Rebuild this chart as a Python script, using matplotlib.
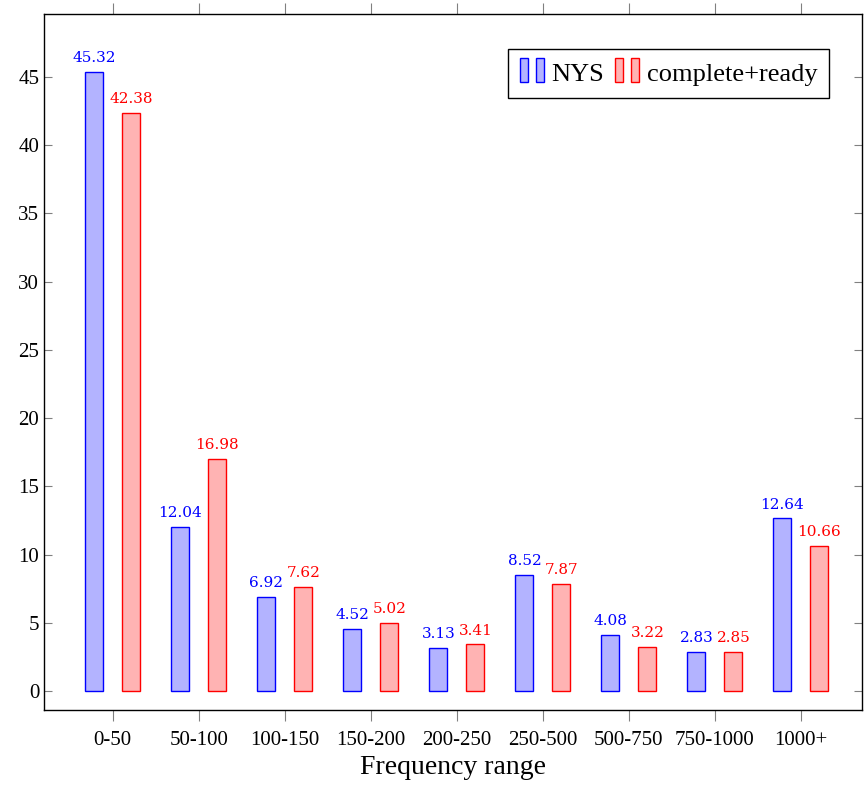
import numpy as np
import matplotlib.pyplot as plt
from matplotlib.patches import Rectangle

plt.rcParams['font.family'] = ['Liberation Serif', 'DejaVu Serif']

categories = ["0-50", "50-100", "100-150", "150-200", "200-250", "250-500", "500-750", "750-1000", "1000+"]
nys = [45.32, 12.04, 6.92, 4.52, 3.13, 8.52, 4.08, 2.83, 12.64]
complete_ready = [42.38, 16.98, 7.62, 5.02, 3.41, 7.87, 3.22, 2.85, 10.66]

blue_face = (0.7, 0.7, 1.0)
red_face = (1.0, 0.7, 0.7)


class TwoBars:
    # pgfplots-style ybar legend image: two thin bars
    def legend_artist(self, legend, orig_handle, fontsize, handlebox):
        x0, y0 = handlebox.xdescent, handlebox.ydescent
        wd, ht = handlebox.width, handlebox.height
        bw = 5.8
        bh = 17.3
        yb = y0 + ht / 2 - bh / 2
        for xb in (x0, x0 + wd - bw):
            r = Rectangle((xb - x0, yb - y0), bw, bh, facecolor=orig_handle.get_facecolor(),
                          edgecolor=orig_handle.get_edgecolor(), linewidth=1,
                          transform=handlebox.get_transform())
            handlebox.add_artist(r)
        return r


fig = plt.figure(figsize=(8.64, 7.85), dpi=100)
ax = fig.add_axes([44/864, 1 - 710/785, 818/864, 696/785])

x = np.arange(len(categories))
w = 0.21
off = 0.215
b1 = ax.bar(x - off, nys, w, color=blue_face, edgecolor='blue', linewidth=1)
b2 = ax.bar(x + off, complete_ready, w, color=red_face, edgecolor='red', linewidth=1)

for xi, v in zip(x, nys):
    ax.annotate("%.2f" % v, (xi - off, v), xytext=(0, 5), textcoords='offset points',
                ha='center', va='bottom', color='blue', fontsize=11, family='DejaVu Serif')
for xi, v in zip(x, complete_ready):
    ax.annotate("%.2f" % v, (xi + off, v), xytext=(0, 5), textcoords='offset points',
                ha='center', va='bottom', color='red', fontsize=11, family='DejaVu Serif')

ax.set_xlim(-0.80, 8.71)
ax.set_ylim(-1.39, 49.6)
ax.set_xticks(x)
ax.set_xticklabels(categories, fontsize=15)
ax.set_yticks(np.arange(0, 50, 5))
ax.tick_params(axis='y', direction='in', left=True, right=True, color='gray',
               length=6, labelsize=15)
ax.tick_params(axis='x', direction='out', bottom=True, top=True, color='gray',
               length=8, labelsize=15, pad=7)
ax.set_xlabel("Frequency range", fontsize=20, labelpad=4)
for s in ax.spines.values():
    s.set_linewidth(1)
    s.set_color('black')

leg = ax.legend([b1.patches[0], b2.patches[0]], ["NYS", "complete+ready"],
                handler_map={Rectangle: TwoBars()},
                loc='upper right', bbox_to_anchor=(0.96, 0.95), fontsize=19,
                fancybox=False, framealpha=1, edgecolor='black', ncol=2,
                handlelength=0.91, handleheight=0.9, handletextpad=0.3,
                columnspacing=0.4, borderpad=0.45, borderaxespad=0)
leg.get_frame().set_linewidth(1)

fig.savefig("out.png", dpi=100)
